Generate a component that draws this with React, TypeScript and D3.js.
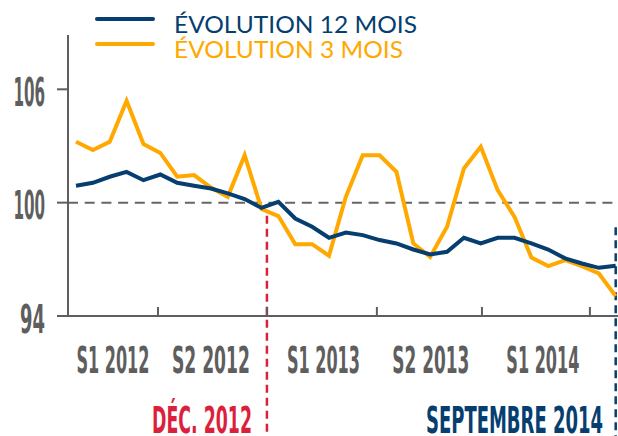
import * as d3 from "d3";

// monthly index, janv. 2012 -> sept. 2014
const evol12 = [
  100.89, 101.05, 101.37, 101.63, 101.19, 101.49, 101.05, 100.89, 100.75, 100.49, 100.19,
  99.72, 100.04, 99.16, 98.72, 98.14, 98.42, 98.28, 98.02, 97.84, 97.52, 97.26, 97.4,
  98.14, 97.84, 98.14, 98.14, 97.84, 97.52, 97.05, 96.78, 96.55, 96.66,
];
const evol3 = [
  103.22, 102.78, 103.22, 105.39, 103.1, 102.63, 101.37, 101.46, 100.8, 100.31, 102.51,
  99.66, 99.29, 97.8, 97.8, 97.19, 100.31, 102.51, 102.51, 101.63, 97.84, 97.13, 98.72,
  101.81, 102.96, 100.66, 99.25, 97.1, 96.64, 96.96, 96.64, 96.25, 95.05,
];
const yTicks = [94, 100, 106];
// semester boundaries / label centres, in month-index units
const semesterTicks = [4.86, 11.32, 17.84, 24.07, 30.47];
const semesterLabels = ["S1 2012", "S2 2012", "S1 2013", "S2 2013", "S1 2014"];
const semesterLabelPos = [2.19, 8.0, 14.67, 21.04, 27.68];
const legend = [
  { name: "ÉVOLUTION 12 MOIS", values: evol12, color: "#063e70" },
  { name: "ÉVOLUTION 3 MOIS", values: evol3, color: "#ffa800" },
];
const decIndex = 11.32;
const sepIndex = 32;

const W = 618;
const H = 436;
const GREY = "#5e5e5e";
const RED = "#dc1f3c";
const CONDENSED = "'Liberation Sans Narrow', 'DejaVu Sans Condensed', sans-serif";

// rendered widths of the condensed display font
const semesterWidth = [73, 78, 73, 77, 73];
const legendWidth = [243, 229];

export default function App() {
  const x = d3.scaleLinear().domain([0, evol12.length - 1]).range([76, 615.7]);
  const y = d3.scaleLinear().domain([94, 106]).range([316, 89.3]);
  const axisX = 68;
  const yTop = y(108.87);

  const line = d3
    .line<number>()
    .x((_, i) => x(i))
    .y((d) => y(d));

  return (
    <svg
      width={W}
      height={H}
      style={{ position: "absolute", left: 0, top: 0, background: "#fff" }}
    >
      {/* reference line at 100 */}
      <line
        x1={axisX}
        x2={W}
        y1={y(100)}
        y2={y(100)}
        stroke="#666"
        strokeWidth={2}
        strokeDasharray="10 6.7"
      />

      {/* markers */}
      <line
        x1={x(decIndex)}
        x2={x(decIndex)}
        y1={y(99.3)}
        y2={H}
        stroke={RED}
        strokeWidth={2.5}
        strokeDasharray="8 5"
      />
      <line
        x1={x(sepIndex)}
        x2={x(sepIndex)}
        y1={y(98.7)}
        y2={H}
        stroke="#063e70"
        strokeWidth={2.5}
        strokeDasharray="8 5"
      />

      {/* axes */}
      <line x1={axisX} x2={axisX} y1={yTop} y2={y(94)} stroke={GREY} strokeWidth={2} />
      <line x1={57} x2={W} y1={y(94)} y2={y(94)} stroke={GREY} strokeWidth={2} />
      {yTicks.map((t) => (
        <g key={t}>
          <line x1={57} x2={axisX} y1={y(t)} y2={y(t)} stroke={GREY} strokeWidth={2} />
          <text
            x={45}
            y={y(t) + 16.5}
            textAnchor="end"
            textLength={String(t).length === 3 ? 31.6 : 25}
            lengthAdjust="spacingAndGlyphs"
            fontFamily={CONDENSED}
            fontWeight="bold"
            fontSize={39}
            fill={GREY}
          >
            {t}
          </text>
        </g>
      ))}
      {semesterTicks.map((t) => (
        <line
          key={t}
          x1={x(t)}
          x2={x(t)}
          y1={y(94)}
          y2={y(94) - 9}
          stroke={GREY}
          strokeWidth={2}
        />
      ))}
      {semesterLabels.map((s, i) => (
        <text
          key={s}
          x={x(semesterLabelPos[i])}
          y={373}
          textAnchor="middle"
          textLength={semesterWidth[i]}
          lengthAdjust="spacingAndGlyphs"
          fontFamily={CONDENSED}
          fontWeight="bold"
          fontSize={36.5}
          fill={GREY}
        >
          {s}
        </text>
      ))}

      {/* series */}
      {[...legend].reverse().map((s) => (
        <path
          key={s.name}
          d={line(s.values) ?? ""}
          fill="none"
          stroke={s.color}
          strokeWidth={4}
        />
      ))}

      {/* legend */}
      {legend.map((s, i) => (
        <g key={s.name} transform={`translate(0,${19 + i * 25})`}>
          <line x1={97} x2={153} y1={0} y2={0} stroke={s.color} strokeWidth={4} strokeLinecap="round" />
          <text
            x={174}
            y={13.5}
            textLength={legendWidth[i]}
            lengthAdjust="spacingAndGlyphs"
            fontFamily="Lato, 'Open Sans', sans-serif"
            fontSize={23.5}
            fill={s.color}
          >
            {s.name}
          </text>
        </g>
      ))}

      {/* marker labels */}
      <text
        x={252}
        y={433}
        textAnchor="end"
        textLength={100}
        lengthAdjust="spacingAndGlyphs"
        fontFamily={CONDENSED}
        fontWeight="bold"
        fontSize={36.5}
        fill={RED}
      >
        DÉC. 2012
      </text>
      <text
        x={603}
        y={433}
        textAnchor="end"
        textLength={177}
        lengthAdjust="spacingAndGlyphs"
        fontFamily={CONDENSED}
        fontWeight="bold"
        fontSize={36.5}
        fill="#063e70"
      >
        SEPTEMBRE 2014
      </text>
    </svg>
  );
}
